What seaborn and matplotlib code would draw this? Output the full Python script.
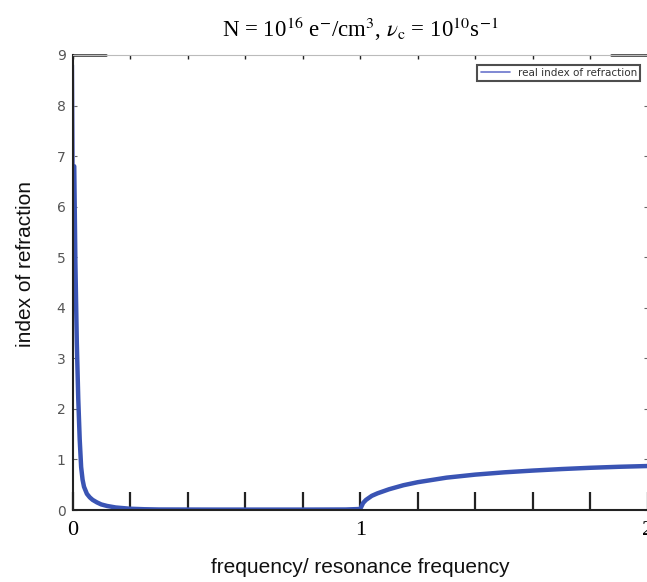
import matplotlib
matplotlib.use("Agg")
import matplotlib.pyplot as plt
import pandas as pd
import seaborn as sns

# values
freq = [0.003, 0.006, 0.010, 0.015, 0.020, 0.025, 0.030, 0.035, 0.040, 0.050,
        0.060, 0.070, 0.085, 0.100, 0.120, 0.150, 0.200, 0.250, 0.300, 0.500,
        0.800, 0.950, 1.000, 1.010, 1.020, 1.040, 1.060, 1.100, 1.150, 1.200,
        1.300, 1.400, 1.500, 1.600, 1.700, 1.800, 1.900, 2.000]
index_real = [8.8, 6.8, 4.9, 3.3, 2.2, 1.4, 0.85, 0.6, 0.46, 0.32,
              0.25, 0.2, 0.15, 0.11, 0.08, 0.05, 0.025, 0.015, 0.01, 0.008,
              0.008, 0.01, 0.02, 0.14, 0.20, 0.28, 0.33, 0.41, 0.49, 0.55,
              0.64, 0.70, 0.745, 0.78, 0.81, 0.835, 0.855, 0.87]
series_name = "real index of refraction"

df = pd.DataFrame({"frequency": freq, "n": index_real})

sns.set_style("white")
plt.rcParams["mathtext.fontset"] = "stix"

fig = plt.figure(figsize=(6.47, 5.82), dpi=100)
ax = fig.add_axes([72.5 / 647, 72 / 582, 575.5 / 647, 455 / 582])

line_color = "#3a54b4"
# thin overshoot at the very start
ax.plot(freq[:2], index_real[:2], color="#7a86d0", lw=1.2)
sns.lineplot(data=df.iloc[1:], x="frequency", y="n", ax=ax, color=line_color,
             lw=3.2, sort=False, legend=False)
ax.plot([], [], color="#6a74cc", lw=1.2, label=series_name)

ax.set_xlim(0, 2)
ax.set_ylim(0, 9)

# spines
for s in ["left", "bottom"]:
    ax.spines[s].set_color("#222222")
    ax.spines[s].set_linewidth(1.5)
ax.spines["top"].set_color("#bbbbbb")
ax.spines["top"].set_linewidth(0.8)
ax.spines["right"].set_visible(False)
ax.axhline(9, xmin=0, xmax=33 / 575.5, color="#222222", lw=1.8, clip_on=False)
ax.axhline(9, xmin=(611 - 72.5) / 575.5, xmax=1, color="#222222", lw=1.8, clip_on=False)

# x ticks: tall inward ticks every 0.2, labels only at 0, 1, 2
ax.set_xticks([i * 0.2 for i in range(11)])
ax.set_xticklabels(["0", "", "", "", "", "1", "", "", "", "", "2"],
                   fontfamily="Liberation Serif", fontsize=16, color="black")
ax.tick_params(axis="x", direction="in", length=13, width=1.6, color="#222222",
               pad=8, bottom=True, top=True, labeltop=False)
for t in ax.xaxis.get_major_ticks():
    t.tick2line.set_markersize(3)
    t.tick2line.set_color("#888888")
    t.tick2line.set_markeredgewidth(1.0)

ax.set_yticks(range(10))
ax.tick_params(axis="y", direction="in", length=3, width=0.8, color="#666666",
               labelsize=10, labelcolor="#555555", pad=5, left=True, right=True)

ax.set_xlabel("frequency/ resonance frequency", fontsize=15, labelpad=13,
              fontfamily="Liberation Sans", color="#111111")
ax.set_ylabel("index of refraction", fontsize=15,
              fontfamily="Liberation Sans", color="#111111")
ax.yaxis.set_label_coords(-0.065, 0.54)
ax.set_title(r"N = 10$^{16}$ e$^{-}$/cm$^{3}$, $\nu_{\rm c}$ = 10$^{10}$s$^{-1}$",
             fontsize=16.5, fontfamily="Liberation Serif", pad=13, color="black")

leg = ax.legend(loc="upper right", bbox_to_anchor=(568 / 575.5, 445 / 455),
                fontsize=7.5, frameon=True, fancybox=False, handlelength=2.8,
                borderpad=0.3, borderaxespad=0)
leg.get_frame().set_edgecolor("#222222")
leg.get_frame().set_linewidth(1.5)
for text in leg.get_texts():
    text.set_color("#333333")

fig.savefig("out.png", dpi=100)
